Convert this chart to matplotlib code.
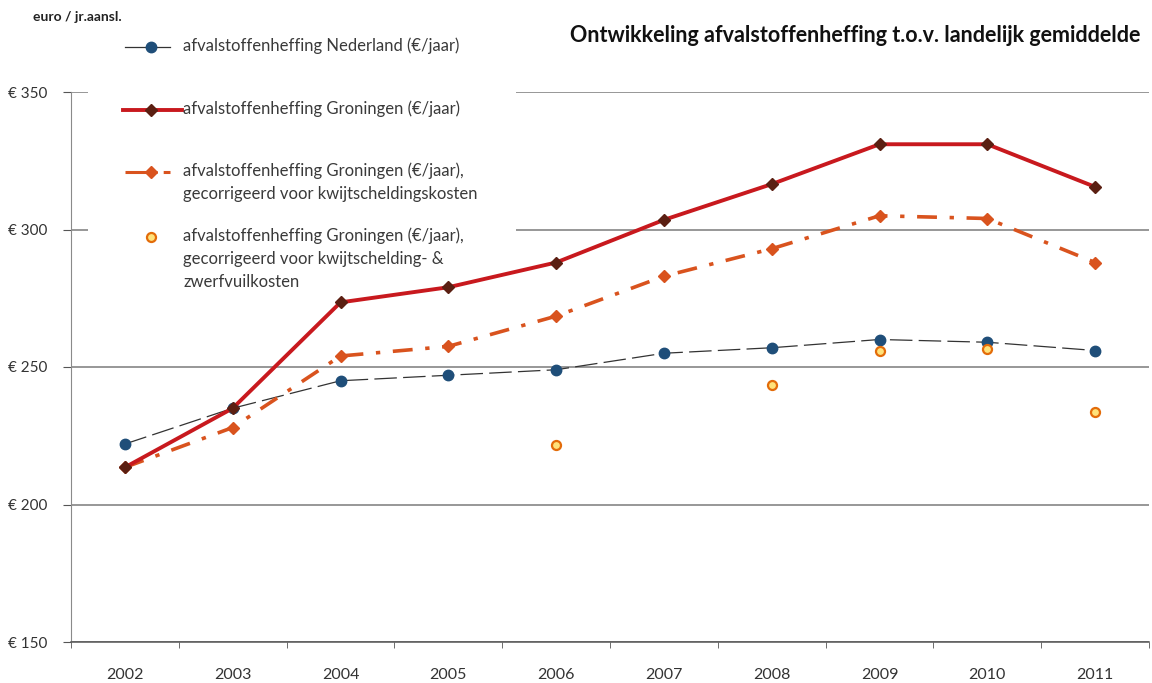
import numpy as np
import matplotlib
matplotlib.use("Agg")
import matplotlib.pyplot as plt
from matplotlib.lines import Line2D
from matplotlib.patches import Rectangle

plt.rcParams['font.family'] = ['Lato', 'DejaVu Sans']

years = ['2002', '2003', '2004', '2005', '2006', '2007', '2008', '2009', '2010', '2011']
nederland = [222, 235, 245, 247, 249, 255, 257, 260, 259, 256]
groningen = [213.5, 235, 273.5, 279, 288, 303.5, 316.5, 331, 331, 315.5]
groningen_kwijt = [213.5, 228, 254, 257.5, 268.5, 283, 293, 305, 304, 288]
groningen_kwijt_zwerf = [np.nan, np.nan, np.nan, np.nan, 221.5, np.nan, 243.5, 256, 256.5, 233.5]
ytick_vals = [150, 200, 250, 300, 350]
ytick_labels = ['€ 150', '€ 200', '€ 250', '€ 300', '€ 350']

labels = [
    'afvalstoffenheffing Nederland (€/jaar)',
    'afvalstoffenheffing Groningen (€/jaar)',
    'afvalstoffenheffing Groningen (€/jaar),\ngecorrigeerd voor kwijtscheldingskosten',
    'afvalstoffenheffing Groningen (€/jaar),\ngecorrigeerd voor kwijtschelding- &\nzwerfvuilkosten',
]

W, H = 1152, 683
fig = plt.figure(figsize=(W / 100, H / 100), dpi=100)
L, R, T, B = 71, 1149, 92, 642
ax = fig.add_axes([L / W, 1 - B / H, (R - L) / W, (B - T) / H])

x = np.arange(len(years))
c_blue = '#1F4E79'
c_red = '#C8191E'
c_dark = '#5B1F12'
c_orange = '#D9531E'
c_circ_edge = '#E36C0A'
c_circ_face = '#FFE27A'

ax.plot(x, nederland, color='#333333', lw=0.9, dashes=(18, 5), marker='o',
        markersize=7.5, markerfacecolor=c_blue, markeredgecolor=c_blue, zorder=3)
ax.plot(x, groningen_kwijt, color=c_orange, lw=2.6, dashes=(5.5, 3.5, 1.2, 3.5),
        marker='D', markersize=6.5, markerfacecolor=c_orange, markeredgecolor=c_orange, zorder=4)
ax.plot(x, groningen, color=c_red, lw=2.8, marker='D', markersize=6.5,
        markerfacecolor=c_dark, markeredgecolor=c_dark, zorder=5)
ax.plot(x, groningen_kwijt_zwerf, linestyle='none', marker='o', markersize=6.5,
        markerfacecolor=c_circ_face, markeredgecolor=c_circ_edge, markeredgewidth=1.6, zorder=6)

ax.set_xlim(-0.5, len(years) - 0.5)
ax.set_ylim(150, 350)
ax.set_xticks(x)
ax.set_xticklabels(years)
ax.set_xticks(np.arange(len(years) + 1) - 0.5, minor=True)
ax.tick_params(axis='x', which='major', length=0, pad=19, labelsize=11.5, labelcolor='#333333')
ax.tick_params(axis='x', which='minor', length=4, color='#555555', direction='out')
ax.set_yticks(ytick_vals)
ax.set_yticklabels(ytick_labels)
ax.tick_params(axis='y', length=6, color='#555555', pad=11, labelsize=11, labelcolor='#333333')

ax.set_axisbelow(True)
ax.grid(axis='y', color='#7a7a7a', lw=1.1)
for s in ['top', 'right']:
    ax.spines[s].set_visible(False)
ax.spines['left'].set_color('#8a8a8a')
ax.spines['bottom'].set_color('#555555')
ax.spines['bottom'].set_linewidth(1.1)

# white legend background covering the grid
def axfrac(px, py):
    return (px - L) / (R - L), (B - py) / (B - T)

x0, y0 = axfrac(88, 292)
x1, y1 = axfrac(516, 28)
ax.add_patch(Rectangle((x0, y0), x1 - x0, y1 - y0, transform=ax.transAxes,
                       facecolor='white', edgecolor='none', zorder=1, clip_on=False))

def ff(px, py):
    return px / W, 1 - py / H

# legend handles and labels
hx0, hx1, hxm = 125, 170, 151
rows = [47, 110, 172, 237]
txt_x = 183
fig.add_artist(Line2D([ff(hx0, 0)[0], ff(hx1, 0)[0]], [ff(0, rows[0])[1]] * 2,
                      color='#333333', lw=0.9))
fig.add_artist(Line2D([ff(hxm, 0)[0]], [ff(0, rows[0])[1]], marker='o', markersize=7.5,
                      color=c_blue, linestyle='none'))
fig.add_artist(Line2D([ff(123, 0)[0], ff(182, 0)[0]], [ff(0, rows[1])[1]] * 2,
                      color=c_red, lw=2.8))
fig.add_artist(Line2D([ff(hxm, 0)[0]], [ff(0, rows[1])[1]], marker='D', markersize=6.5,
                      color=c_dark, linestyle='none'))
fig.add_artist(Line2D([ff(hx0, 0)[0], ff(hx1, 0)[0]], [ff(0, rows[2])[1]] * 2,
                      color=c_orange, lw=2.2, dashes=(7, 2, 1.5, 2)))
fig.add_artist(Line2D([ff(hxm, 0)[0]], [ff(0, rows[2])[1]], marker='D', markersize=6.5,
                      color=c_orange, linestyle='none'))
fig.add_artist(Line2D([ff(hxm, 0)[0]], [ff(0, rows[3])[1]], marker='o', markersize=6.5,
                      markerfacecolor=c_circ_face, markeredgecolor=c_circ_edge,
                      markeredgewidth=1.6, linestyle='none'))

for lab, ry in zip(labels, rows):
    fig.text(ff(txt_x, 0)[0], ff(0, ry - 10)[1], lab, ha='left', va='top', fontsize=12,
             color='#3a3a3a', linespacing=1.55)

fig.text(33 / W, 1 - 17 / H, 'euro / jr.aansl.', ha='left', va='center', fontsize=10,
         fontweight='bold', color='#222222')
fig.text(1140 / W, 1 - 35 / H, 'Ontwikkeling afvalstoffenheffing t.o.v. landelijk gemiddelde',
         ha='right', va='center', fontsize=15.5, fontweight='bold', color='#111111')

fig.savefig('out.png', dpi=100, facecolor='white')
